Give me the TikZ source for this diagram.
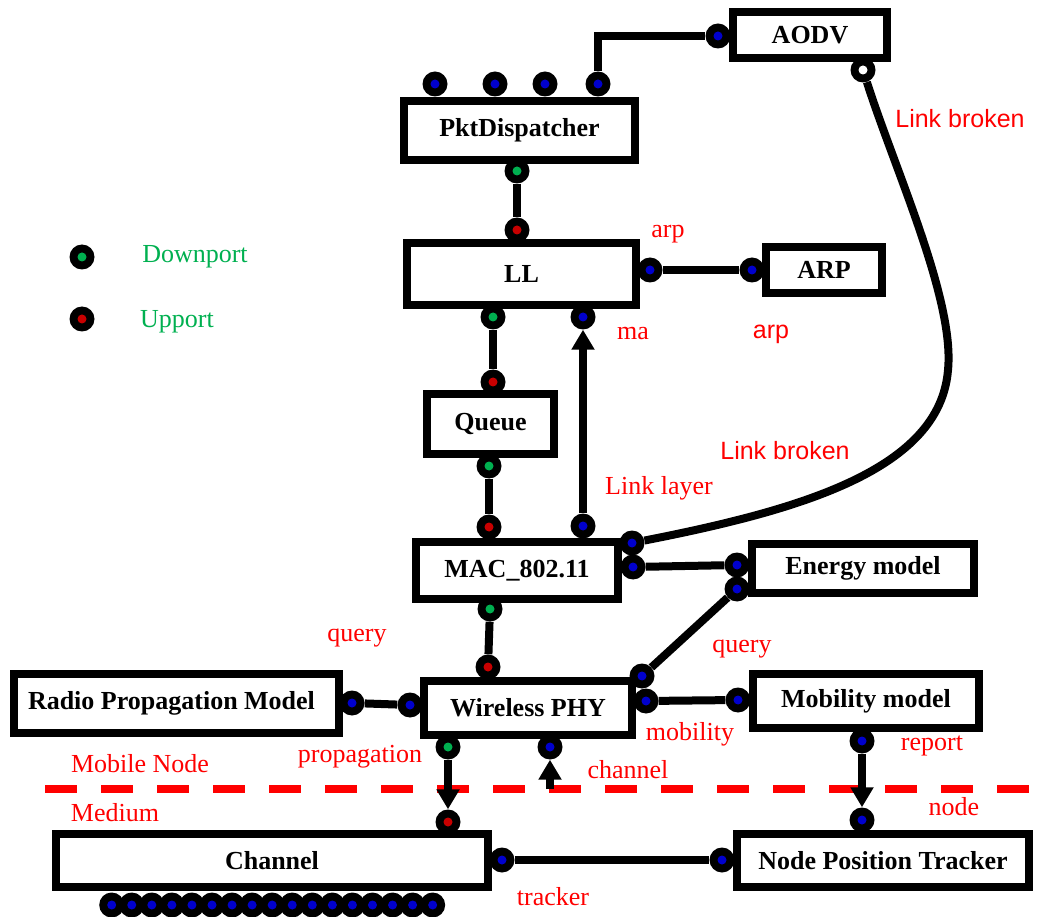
\documentclass[tikz,border=0pt]{standalone}
\usepackage{fontspec}
\setmainfont{Liberation Serif}
\newfontfamily\lsans{Liberation Sans}
\usetikzlibrary{arrows.meta}
\pgfdeclarelayer{background}
\pgfsetlayers{background,main}
\definecolor{portblue}{RGB}{0,0,205}
\definecolor{portgreen}{RGB}{0,176,80}
\definecolor{portred}{RGB}{200,0,0}
\definecolor{lblred}{RGB}{255,0,0}
\begin{document}
\begin{tikzpicture}[x=1pt,y=-1pt,
  box/.style={draw=black, line width=8pt, fill=white, inner sep=0pt,
    font=\fontsize{26}{30}\selectfont\bfseries},
  port/.style={circle, fill=black, minimum size=25pt, inner sep=0pt,
    path picture={\fill[#1] (path picture bounding box.center) circle (4.5pt);}},
  wire/.style={line width=8pt},
  arr/.style={wire, -{Triangle[length=20pt,width=22pt]}},
  lbl/.style={text=lblred, font=\fontsize{26}{30}\selectfont, inner sep=0pt},
  slbl/.style={lbl, font=\fontsize{25}{30}\selectfont\lsans},
  boundary/.style={draw=lblred, line width=8pt, dash pattern=on 32pt off 24pt}]
\useasboundingbox (0,0) rectangle (1037,917);

% modules
\node[box, minimum width=154pt, minimum height=46pt] (aodv) at (810,35) {AODV};
\node[box, minimum width=231pt, minimum height=59pt] (pd) at (519.5,130.5) {PktDispatcher};
\node[box, minimum width=229pt, minimum height=62pt] (ll) at (521.5,274) {LL};
\node[box, minimum width=116pt, minimum height=46pt] (arp) at (824,270) {ARP};
\node[box, minimum width=127pt, minimum height=60pt] (queue) at (490.5,424) {Queue};
\node[box, minimum width=202pt, minimum height=57pt] (mac) at (517,570.5) {MAC\_802.11};
\node[box, minimum width=222pt, minimum height=49pt] (energy) at (863,568.5) {Energy model};
\node[box, minimum width=208pt, minimum height=54pt] (phy) at (528,708) {Wireless PHY};
\node[box, minimum width=325pt, minimum height=59pt] (radio) at (176.5,703.5) {Radio Propagation Model\hspace*{10pt}};
\node[box, minimum width=226pt, minimum height=54pt] (mob) at (866,701) {Mobility model};
\node[box, minimum width=432pt, minimum height=53pt] (chan) at (272,860.5) {Channel};
\node[box, minimum width=292pt, minimum height=53pt] (npt) at (883,860.5) {Node Position Tracker};

% ports
\node[port=portblue] (pd1) at (435,84) {};
\node[port=portblue] (pd2) at (495,84) {};
\node[port=portblue] (pd3) at (545,84) {};
\node[port=portblue] (pd4) at (598,84) {};
\node[port=portblue] (aodvL) at (718,36) {};
\node[port=white] (aodvH) at (863,70) {};
\node[port=portgreen] (pdD) at (517,171) {};
\node[port=portred] (llU) at (517,230) {};
\node[port=portblue] (llR) at (650,270) {};
\node[port=portblue] (arpL) at (752,270) {};
\node[port=portgreen] (llD) at (493,317) {};
\node[port=portblue] (llD2) at (583,317) {};
\node[port=portred] (qU) at (493,382) {};
\node[port=portgreen] (qD) at (489,466) {};
\node[port=portred] (macU1) at (489,527) {};
\node[port=portblue] (macU2) at (583,526) {};
\node[port=portblue] (macR1) at (632,543) {};
\node[port=portblue] (macR2) at (633,567) {};
\node[port=portblue] (enL1) at (737,565) {};
\node[port=portblue] (enL2) at (737,589) {};
\node[port=portgreen] (macD) at (490,609) {};
\node[port=portred] (phyU) at (488,667) {};
\node[port=portblue] (phyL) at (410,705) {};
\node[port=portblue] (radR) at (352,703) {};
\node[port=portblue] (phyR1) at (642,676) {};
\node[port=portblue] (phyR2) at (646,701) {};
\node[port=portblue] (mobL) at (738,700) {};
\node[port=portgreen] (phyD1) at (448,747) {};
\node[port=portblue] (phyD2) at (550,747) {};
\node[port=portred] (chU) at (448,822) {};
\node[port=portblue] (mobD) at (862,741) {};
\node[port=portblue] (nptU) at (862,820) {};
\node[port=portblue] (chR) at (502,860) {};
\node[port=portblue] (nptL) at (722,860) {};
\foreach \i in {0,...,16}
  \node[port=portblue] (chB\i) at (111.7+20.06*\i,905) {};

\coordinate (lbmid) at (948,370);
\coordinate (chin) at (550,789);
\coordinate (bndL) at (45,789);
\coordinate (bndR) at (1033,789);

% connectors
\begin{pgfonlayer}{background}
\draw[boundary] (bndL) -- (bndR);
\draw[wire] (pd4) |- (aodvL);
\draw[wire] (pdD) -- (llU);
\draw[wire] (llR) -- (arpL);
\draw[wire] (llD) -- (qU);
\draw[wire] (qD) -- (macU1);
\draw[arr] (macU2) -- (llD2);
\draw[wire] (aodvH) .. controls (895,170) and (955,300) .. (lbmid)
                    .. controls (940,470) and (800,510) .. (macR1);
\draw[wire] (macR2) -- (enL1);
\draw[wire] (enL2) -- (phyR1);
\draw[wire] (macD) -- (phyU);
\draw[wire] (radR) -- (phyL);
\draw[wire] (phyR2) -- (mobL);
\draw[arr] (phyD1) -- (chU);
\draw[arr] (chin) -- (phyD2);
\draw[arr] (mobD) -- (nptU);
\draw[wire] (chR) -- (nptL);
\end{pgfonlayer}

% legend
\node[port=portgreen] (lgD) at (82,257) {};
\node[lbl, text=portgreen] (lgDt) at (195,257) {Downport};
\node[port=portred] (lgU) at (82,319) {};
\node[lbl, text=portgreen] (lgUt) at (177,322) {Upport};

% labels
\node[slbl] (t1) at (960,119) {Link broken};
\node[lbl] (t2) at (668,234) {arp};
\node[lbl] (t3) at (633,334) {ma};
\node[slbl] (t4) at (771,334) {arp};
\node[slbl] (t5) at (785,451) {Link broken};
\node[lbl] (t6) at (659,488) {Link layer};
\node[lbl] (t7) at (357,638) {query};
\node[lbl] (t8) at (742,649) {query};
\node[lbl] (t9) at (690,734) {mobility};
\node[lbl] (t10) at (360,757) {propagation};
\node[lbl] (t11) at (628,770) {channel};
\node[lbl] (t12) at (932,746) {report};
\node[lbl] (t13) at (140,764) {Mobile Node};
\node[lbl] (t14) at (115,813) {Medium};
\node[lbl] (t15) at (954,807) {node};
\node[lbl] (t16) at (553,897) {tracker};
\end{tikzpicture}
\end{document}
